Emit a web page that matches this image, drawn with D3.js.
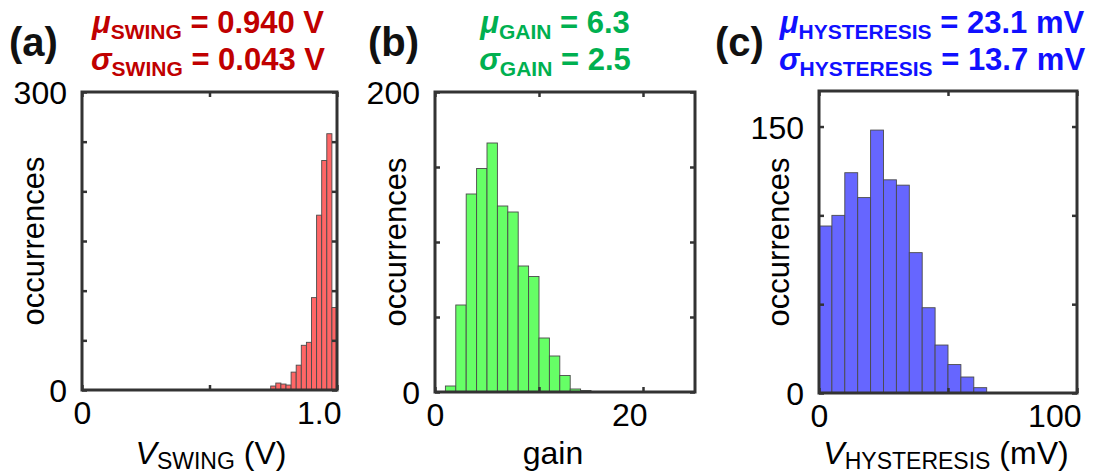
<!DOCTYPE html>
<html>
<head>
<meta charset="utf-8">
<script src="https://cdn.jsdelivr.net/npm/d3@7"></script>
<style>
  html, body { margin: 0; padding: 0; background: #fff; }
  svg { display: block; }
  text { font-family: "Liberation Sans", Arial, sans-serif; }
</style>
</head>
<body>
<svg id="fig" width="1102" height="473"></svg>
<script>
// ---- data ----
// (a) output swing, bins of 0.02 V
const swingBinStarts = [0.74, 0.76, 0.78, 0.80, 0.82, 0.84, 0.86, 0.88, 0.90, 0.92, 0.94, 0.96, 0.98];
const swingBinWidth = 0.02;
const swingCounts = [4, 7, 6, 5, 18, 25, 45, 48, 93, 176, 231, 258, 83];

// (b) gain, bins of 1
const gainBinStarts = [1, 2, 3, 4, 5, 6, 7, 8, 9, 10, 11, 12, 13, 14];
const gainBinWidth = 1;
const gainCounts = [4, 58, 132, 149, 166, 124, 120, 84, 77, 36, 24, 11, 2, 1];

// (c) hysteresis, bins of 5 mV
const hystBinStarts = [0, 5, 10, 15, 20, 25, 30, 35, 40, 45, 50, 55, 60];
const hystBinWidth = 5;
const hystCounts = [94, 100, 124, 110, 148, 120, 117, 79, 48, 27, 16, 9, 3];

// tick positions and labels
const swingXTicks = [0, 0.5, 1.0];
const swingXTickLabels = ["0", "", "1.0"];
const swingYTicks = [0, 50, 100, 150, 200, 250, 300];
const swingYTickLabels = ["0", "", "", "", "", "", "300"];

const gainXTicks = [0, 10, 20];
const gainXTickLabels = ["0", "", "20"];
const gainYTicks = [0, 50, 100, 150, 200];
const gainYTickLabels = ["0", "", "", "", "200"];

const hystXTicks = [0, 50, 100];
const hystXTickLabels = ["0", "", "100"];
const hystYTicks = [0, 50, 100, 150];
const hystYTickLabels = ["0", "", "", "150"];

// statistics shown above each panel
const swingStats = { mean: "0.940 V", sd: "0.043 V" };
const gainStats = { mean: "6.3", sd: "2.5" };
const hystStats = { mean: "23.1 mV", sd: "13.7 mV" };

// ---- layout ----
const panels = [
  {
    tag: "(a)", tagX: 9,
    box: { left: 82, right: 337, top: 92, bottom: 390 },
    xDomain: [0, 1], yDomain: [0, 300],
    starts: swingBinStarts, width: swingBinWidth, counts: swingCounts,
    xTicks: swingXTicks, xTickLabels: swingXTickLabels,
    yTicks: swingYTicks, yTickLabels: swingYTickLabels,
    fill: "#ff6666", statColor: "#c00000", sub: "SWING", stats: swingStats, statX: 208,
    xLabel: { italic: "V", sub: "SWING", rest: " (V)" }, ylabX: 33, xLabelX: 211
  },
  {
    tag: "(b)", tagX: 368,
    box: { left: 435, right: 695, top: 92, bottom: 392 },
    xDomain: [0, 25], yDomain: [0, 200],
    starts: gainBinStarts, width: gainBinWidth, counts: gainCounts,
    xTicks: gainXTicks, xTickLabels: gainXTickLabels,
    yTicks: gainYTicks, yTickLabels: gainYTickLabels,
    fill: "#66ff66", statColor: "#00b050", sub: "GAIN", stats: gainStats, statX: 555,
    xLabel: { italic: "", sub: "", rest: "gain" }, ylabX: 395, xLabelX: 553
  },
  {
    tag: "(c)", tagX: 715,
    box: { left: 819, right: 1077, top: 91, bottom: 393 },
    xDomain: [0, 100], yDomain: [0, 170],
    starts: hystBinStarts, width: hystBinWidth, counts: hystCounts,
    xTicks: hystXTicks, xTickLabels: hystXTickLabels,
    yTicks: hystYTicks, yTickLabels: hystYTickLabels,
    fill: "#6666ff", statColor: "#1010ff", sub: "HYSTERESIS", stats: hystStats, statX: 932,
    xLabel: { italic: "V", sub: "HYSTERESIS", rest: " (mV)" }, ylabX: 778, xLabelX: 946
  }
];

const svg = d3.select("#fig");
const frameColor = "#333";
const tickLen = 5;

panels.forEach(p => {
  const b = p.box;
  const x = d3.scaleLinear().domain(p.xDomain).range([b.left, b.right]);
  const y = d3.scaleLinear().domain(p.yDomain).range([b.bottom, b.top]);
  const g = svg.append("g");

  // histogram bars
  g.selectAll("rect.bar")
    .data(p.starts.map((s, i) => ({ x0: s, x1: s + p.width, n: p.counts[i] })))
    .join("rect")
    .attr("class", "bar")
    .attr("x", d => x(d.x0))
    .attr("width", d => x(d.x1) - x(d.x0))
    .attr("y", d => y(d.n))
    .attr("height", d => y(0) - y(d.n))
    .attr("fill", p.fill)
    .attr("stroke", "#4a4a4a")
    .attr("stroke-width", 0.9);

  // axes with inward ticks on all four sides
  const fmtX = d => p.xTickLabels[p.xTicks.indexOf(d)];
  const fmtY = d => p.yTickLabels[p.yTicks.indexOf(d)];

  const axB = g.append("g").attr("transform", `translate(0,${b.bottom})`)
    .call(d3.axisBottom(x).tickValues(p.xTicks).tickSize(-tickLen).tickPadding(11).tickFormat(fmtX));
  const axT = g.append("g").attr("transform", `translate(0,${b.top})`)
    .call(d3.axisTop(x).tickValues(p.xTicks).tickSize(-tickLen).tickFormat(""));
  const axL = g.append("g").attr("transform", `translate(${b.left},0)`)
    .call(d3.axisLeft(y).tickValues(p.yTicks).tickSize(-tickLen).tickPadding(15).tickFormat(fmtY));
  const axR = g.append("g").attr("transform", `translate(${b.right},0)`)
    .call(d3.axisRight(y).tickValues(p.yTicks).tickSize(-tickLen).tickFormat(""));

  [axB, axT, axL, axR].forEach(a => {
    a.select(".domain").remove();
    a.selectAll(".tick line").attr("stroke", frameColor).attr("stroke-width", 2.5);
    a.selectAll(".tick text")
      .attr("fill", "#000")
      .style("font-family", "'Liberation Sans', Arial, sans-serif")
      .style("font-size", "32px");
  });
  axL.selectAll(".tick text").attr("dy", "0.36em");
  axB.selectAll(".tick text").attr("dy", "0.72em");
  // the label at the right end of each x axis sits inside the tick
  axB.selectAll(".tick text")
    .filter(d => d === p.xTicks[p.xTicks.length - 1])
    .attr("text-anchor", "end").attr("x", 4);

  // frame
  g.append("rect")
    .attr("x", b.left).attr("y", b.top)
    .attr("width", b.right - b.left).attr("height", b.bottom - b.top)
    .attr("fill", "none").attr("stroke", frameColor).attr("stroke-width", 3);

  // panel tag
  svg.append("text")
    .attr("x", p.tagX).attr("y", 56)
    .attr("font-size", 40).attr("font-weight", "bold").attr("fill", "#111")
    .text(p.tag);

  // statistics
  const statLines = [
    { sym: "\u03bc", val: p.stats.mean, yb: 33 },
    { sym: "\u03c3", val: p.stats.sd, yb: 70 }
  ];
  statLines.forEach(s => {
    const t = svg.append("text")
      .attr("x", p.statX).attr("y", s.yb)
      .attr("text-anchor", "middle")
      .attr("font-weight", "bold").attr("fill", p.statColor)
      .attr("font-size", 31);
    t.append("tspan").attr("font-style", "italic").text(s.sym);
    t.append("tspan").attr("font-size", 21).attr("dy", 6).text(p.sub);
    t.append("tspan").attr("dy", -6).text(" = " + s.val);
  });

  // x label
  const xl = svg.append("text")
    .attr("x", p.xLabelX).attr("y", 464)
    .attr("text-anchor", "middle").attr("font-size", 32).attr("fill", "#000");
  if (p.xLabel.italic) {
    xl.append("tspan").attr("font-style", "italic").text(p.xLabel.italic);
    xl.append("tspan").attr("font-size", 23).attr("dy", 5).text(p.xLabel.sub);
    xl.append("tspan").attr("dy", -5).text(p.xLabel.rest);
  } else {
    xl.text(p.xLabel.rest);
  }

  // y label
  svg.append("text")
    .attr("transform", `translate(${p.ylabX},${(b.top + b.bottom) / 2}) rotate(-90)`)
    .attr("text-anchor", "middle").attr("dy", "0.35em")
    .attr("font-size", 31).attr("fill", "#000")
    .text("occurrences");
});
</script>
</body>
</html>
